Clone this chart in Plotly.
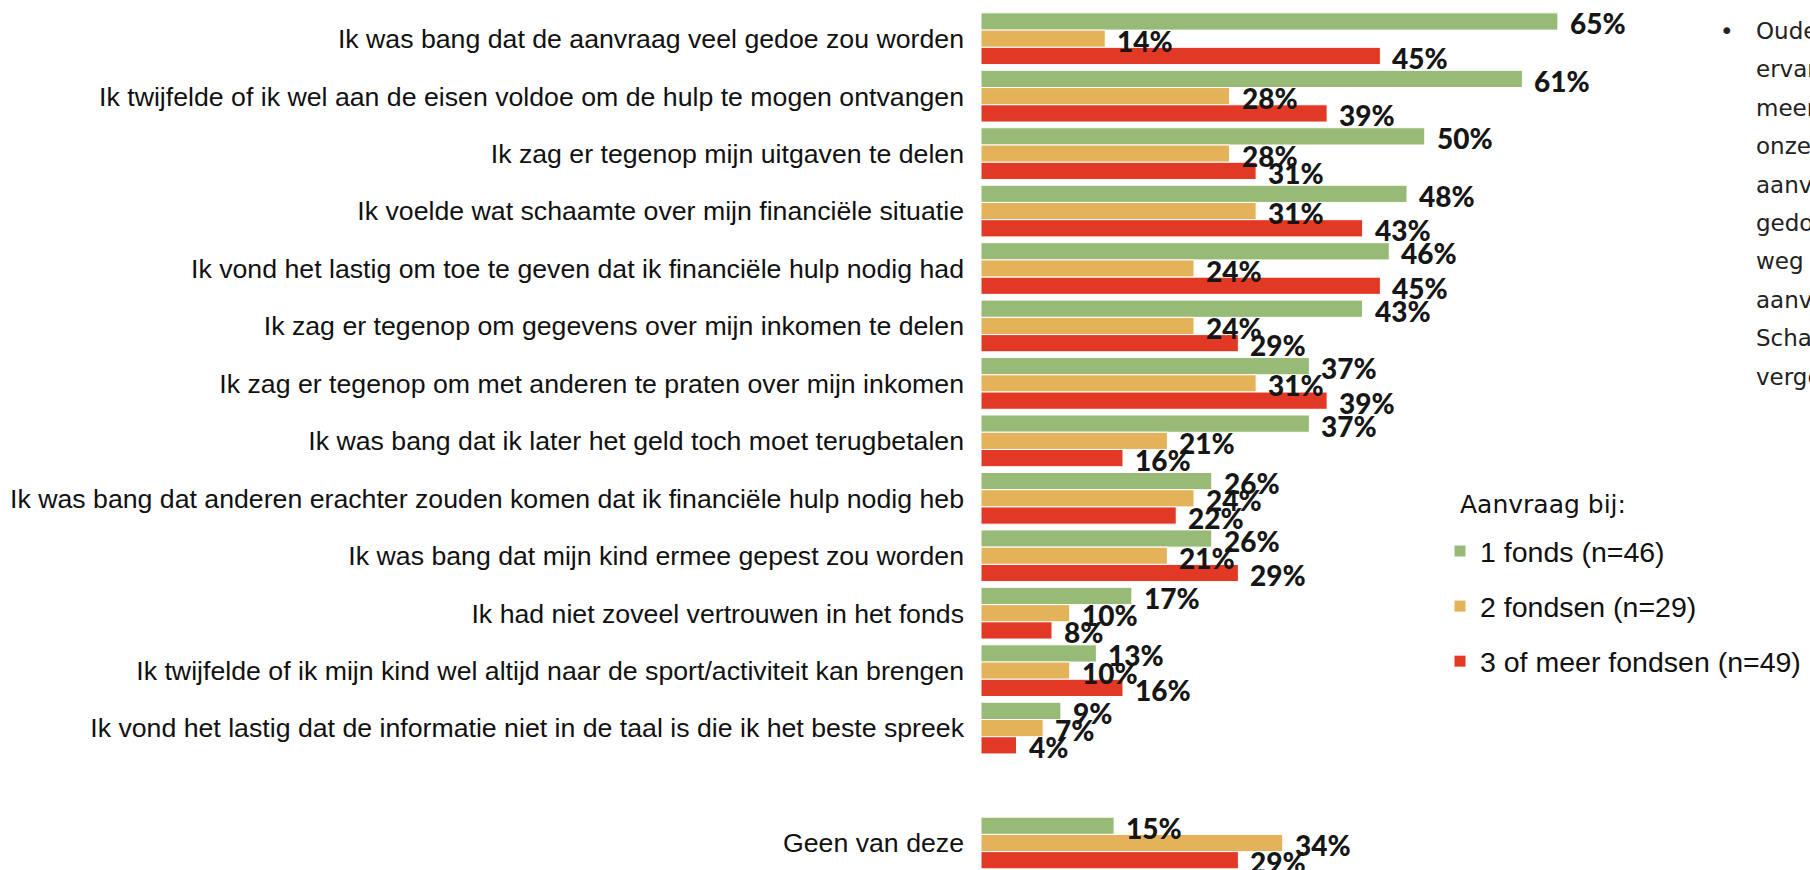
import plotly.graph_objects as go

categories = [
    "Ik was bang dat de aanvraag veel gedoe zou worden",
    "Ik twijfelde of ik wel aan de eisen voldoe om de hulp te mogen ontvangen",
    "Ik zag er tegenop mijn uitgaven te delen",
    "Ik voelde wat schaamte over mijn financiële situatie",
    "Ik vond het lastig om toe te geven dat ik financiële hulp nodig had",
    "Ik zag er tegenop om gegevens over mijn inkomen te delen",
    "Ik zag er tegenop om met anderen te praten over mijn inkomen",
    "Ik was bang dat ik later het geld toch moet terugbetalen",
    "Ik was bang dat anderen erachter zouden komen dat ik financiële hulp nodig heb",
    "Ik was bang dat mijn kind ermee gepest zou worden",
    "Ik had niet zoveel vertrouwen in het fonds",
    "Ik twijfelde of ik mijn kind wel altijd naar de sport/activiteit kan brengen",
    "Ik vond het lastig dat de informatie niet in de taal is die ik het beste spreek",
    "Geen van deze",
]
spacer = " "
axis_order = categories[:-1] + [spacer] + categories[-1:]

one_fund = [65, 61, 50, 48, 46, 43, 37, 37, 26, 26, 17, 13, 9, 15]
two_funds = [14, 28, 28, 31, 24, 24, 31, 21, 24, 21, 10, 10, 7, 34]
three_funds = [45, 39, 31, 43, 45, 29, 39, 16, 22, 29, 8, 16, 4, 29]

series_names = ["1 fonds (n=46)", "2 fondsen (n=29)", "3 of meer fondsen (n=49)"]
series_values = [one_fund, two_funds, three_funds]
colors = ["#97BB76", "#E4B359", "#E23926"]

legend_title = "Aanvraag bij:"
note_lines = [
    "Ouders die bij meerdere fondsen aanvroegen",
    "ervaren vaker drempels. Ouders met 3 of",
    "meer aanvragen zagen vaker op tegen",
    "onzekerheid en gedoe rond de",
    "aanvraag. Ouders met 1 aanvraag vonden",
    "gedoe en twijfel over de eisen de grootste",
    "weg naar hulp. Bij 2 of meer",
    "aanvragen speelt het delen van gegevens.",
    "Schaamte komt in alle groepen",
    "vergelijkbaar voor.",
]

W, H = 1810, 870
ML, MR, MT, MB = 981, 119, 10, 0
PW, PH = W - ML - MR, H - MT - MB
y_lo, y_hi = -0.5, len(axis_order) - 0.53
slot = PH / (y_hi - y_lo)
bargap = 0.1
bar_px = slot * (1 - bargap) / 3


def px_x(x):
    return (x - ML) / PW


def px_y(y):
    return 1 - (y - MT) / PH


fig = go.Figure()
for name, vals, col in zip(series_names, series_values, colors):
    fig.add_trace(go.Bar(
        name=name, y=categories, x=vals, orientation="h",
        marker=dict(color=col, line=dict(color="white", width=1)),
        legendgroup=name, hoverinfo="skip",
    ))

annotations = []
for i, vals in enumerate(series_values):
    for cat, v in zip(categories, vals):
        annotations.append(dict(
            x=v, y=cat, xref="x", yref="y", text=f"{v}%", showarrow=False,
            xanchor="left", yanchor="middle", xshift=10,
            yshift=(1 - i) * bar_px - 2,
            font=dict(family="Lato", size=28, color="#161616", weight=900),
        ))

note_font = dict(family="DejaVu Sans", size=23, color="#222222")
annotations.append(dict(
    xref="paper", yref="paper", x=px_x(1718), y=px_y(31),
    text="•", showarrow=False, xanchor="left", yanchor="middle", font=note_font,
))
for k, line in enumerate(note_lines):
    annotations.append(dict(
        xref="paper", yref="paper", x=px_x(1754), y=px_y(31 + 38.4 * k),
        text=line, showarrow=False, xanchor="left", yanchor="middle", font=note_font,
    ))

annotations.append(dict(
    xref="paper", yref="paper", x=px_x(1458), y=px_y(504),
    text=legend_title, showarrow=False, xanchor="left", yanchor="middle",
    font=dict(family="DejaVu Sans", size=25, color="#111111"),
))

fig.update_layout(
    width=W, height=H,
    margin=dict(l=ML, r=MR, t=MT, b=MB, pad=0),
    paper_bgcolor="white", plot_bgcolor="white",
    barmode="group", bargap=bargap, bargroupgap=0.0,
    annotations=annotations,
    showlegend=True,
    legend=dict(
        x=px_x(1440), y=px_y(526),
        xanchor="left", yanchor="top",
        font=dict(family="Liberation Sans, Arial", size=28.5, color="#111111"),
        traceorder="grouped", tracegroupgap=15, itemwidth=30,
        bgcolor="rgba(0,0,0,0)",
    ),
    xaxis=dict(range=[0, 80], visible=False, fixedrange=True),
    yaxis=dict(
        type="category", categoryorder="array", categoryarray=axis_order,
        range=[y_hi, y_lo], showgrid=False, zeroline=False,
        showline=False, ticks="", ticklabelstandoff=16,
        tickfont=dict(family="Liberation Sans, Arial", size=26.7, color="#111111"),
        fixedrange=True,
    ),
)

fig.write_html("out.html", config={"displayModeBar": False},
               post_script="document.body.style.margin='0';document.body.style.overflow='hidden';")
